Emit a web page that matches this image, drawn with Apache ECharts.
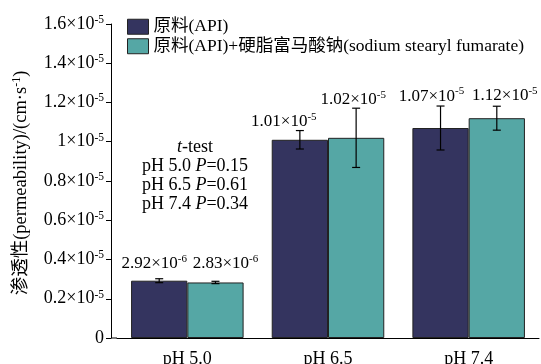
<!DOCTYPE html>
<html><head><meta charset="utf-8">
<script src="https://cdn.jsdelivr.net/npm/echarts@6/dist/echarts.min.js"></script>
<style>html,body{margin:0;padding:0;background:#fff}#c{width:541px;height:364px}</style>
</head><body><div id="c"></div>
<script>
// ---- data ----
const categories = ['pH 5.0', 'pH 6.5', 'pH 7.4'];
const seriesNames = ['原料(API)', '原料(API)+硬脂富马酸钠(sodium stearyl fumarate)'];
const apiMean = [2.92e-6, 1.01e-5, 1.07e-5];
const apiErr = [0.10e-6, 0.047e-5, 0.112e-5];
const ssfMean = [2.83e-6, 1.02e-5, 1.12e-5];
const ssfErr = [0.06e-6, 0.151e-5, 0.061e-5];
const apiLabels = [['2.92', '6'], ['1.01', '5'], ['1.07', '5']];
const ssfLabels = [['2.83', '6'], ['1.02', '5'], ['1.12', '5']];
const yTickMantissa = ['0', '0.2', '0.4', '0.6', '0.8', '1', '1.2', '1.4', '1.6'];
const yTickExp = '5';
const tTest = [['pH 5.0', '0.15'], ['pH 6.5', '0.61'], ['pH 7.4', '0.34']];

// ---- styling ----
const FONT = "'Liberation Serif','Noto Sans CJK SC',serif";
const C_API = '#34345f';
const C_SSF = '#55a7a5';
const apiLabelDx = [-5, -16, -9];
const apiLabelGap = [5, -1, 0];
const ssfLabelDx = [10, -3, 8];
const ssfLabelGap = [8, -1, 1];
const GRID = {left: 117, right: 2, top: 24, bottom: 26, outerBoundsMode: 'none', containLabel: false};

const rich = {
  a: {fontSize: 17, fontFamily: FONT, color: '#000', lineHeight: 20},
  s: {fontSize: 11, fontFamily: FONT, color: '#000', lineHeight: 12, verticalAlign: 'top'},
  ya: {fontSize: 18, fontFamily: FONT, color: '#000', lineHeight: 20},
  ys: {fontSize: 11.5, fontFamily: FONT, color: '#000', lineHeight: 12, verticalAlign: 'top'},
  ta: {fontSize: 18.5, fontFamily: FONT, color: '#000', lineHeight: 20},
  ts: {fontSize: 12, fontFamily: FONT, color: '#000', lineHeight: 12, verticalAlign: 'top'},
  i: {fontSize: 18, fontFamily: FONT, color: '#000', fontStyle: 'italic', lineHeight: 19},
  n: {fontSize: 18, fontFamily: FONT, color: '#000', lineHeight: 19}
};

function errSeries(means, errs, labels, dxs, gaps, side) {
  return {
    type: 'custom',
    name: 'err' + side,
    z: 10,
    data: means.map((m, i) => [i, m, errs[i]]),
    renderItem(params, api) {
      const i = api.value(0), m = api.value(1), e = api.value(2);
      const cw = api.size([1, 0])[0];
      const x = api.coord([i, m])[0] + side * cw * 0.2;
      const yHi = api.coord([i, m + e])[1];
      const yLo = api.coord([i, m - e])[1];
      const hw = 4;
      const st = {stroke: '#000', lineWidth: 1.2};
      const lab = labels[params.dataIndex];
      return {
        type: 'group',
        children: [
          {type: 'line', shape: {x1: x, y1: yHi, x2: x, y2: yLo}, style: st},
          {type: 'line', shape: {x1: x - hw, y1: yHi, x2: x + hw, y2: yHi}, style: st},
          {type: 'line', shape: {x1: x - hw, y1: yLo, x2: x + hw, y2: yLo}, style: st},
          {type: 'text', x: x + dxs[params.dataIndex], y: yHi - gaps[params.dataIndex],
            style: {text: '{a|' + lab[0] + '×10}{s|-' + lab[1] + '}', rich: rich,
              align: 'center', verticalAlign: 'bottom'}}
        ]
      };
    }
  };
}

const chart = echarts.init(document.getElementById('c'), null, {renderer: 'canvas'});
const H = 364;
const tText = '{i|t}{n|-test}\n' + tTest.map(t => '{n|' + t[0] + ' }{i|P}{n|=' + t[1] + '}').join('\n');

chart.setOption({
  animation: false,
  backgroundColor: '#fff',
  grid: GRID,
  legend: {
    orient: 'vertical', left: 122, top: 13,
    itemWidth: 21, itemHeight: 15, itemGap: 2,
    icon: 'rect',
    itemStyle: {borderColor: '#222', borderWidth: 1},
    textStyle: {fontSize: 17.5, fontFamily: FONT, color: '#000'},
    data: seriesNames
  },
  xAxis: {
    type: 'category', data: categories,
    axisLine: {lineStyle: {color: '#000', width: 1}},
    axisTick: {alignWithLabel: true, length: 6, lineStyle: {color: '#000'}},
    axisLabel: {fontSize: 18, fontFamily: FONT, color: '#000', margin: 12}
  },
  yAxis: {
    type: 'value', min: 0, max: 1.6e-5, interval: 0.2e-5, offset: 6,
    axisLine: {show: true, lineStyle: {color: '#000', width: 1}},
    axisTick: {show: true, length: 5, lineStyle: {color: '#000'}},
    splitLine: {show: false},
    axisLabel: {
      margin: 7,
      formatter: (v, idx) => idx === 0 ? '{ya|0}' : '{ya|' + yTickMantissa[idx] + '×10}{ys|-' + yTickExp + '}',
      rich: rich
    }
  },
  graphic: [
    {type: 'line', shape: {x1: GRID.left - 6, y1: H - GRID.bottom, x2: GRID.left, y2: H - GRID.bottom},
      style: {stroke: '#000', lineWidth: 1}, z: 5},
    {type: 'text', x: 21, y: 183, rotation: Math.PI / 2,
      style: {text: '{ta|渗透性(permeability)/(cm·s}{ts|-1}{ta|)}', rich: rich, align: 'center', verticalAlign: 'middle'}},
    {type: 'text', x: 195, y: 138,
      style: {text: tText, rich: rich, align: 'center', verticalAlign: 'top'}}
  ],
  series: [
    {type: 'bar', name: seriesNames[0], data: apiMean, barGap: '0%', barCategoryGap: '20%',
      itemStyle: {color: C_API, borderColor: '#222', borderWidth: 1}},
    {type: 'bar', name: seriesNames[1], data: ssfMean, barGap: '0%', barCategoryGap: '20%',
      itemStyle: {color: C_SSF, borderColor: '#222', borderWidth: 1}},
    errSeries(apiMean, apiErr, apiLabels, apiLabelDx, apiLabelGap, -1),
    errSeries(ssfMean, ssfErr, ssfLabels, ssfLabelDx, ssfLabelGap, 1)
  ]
});
</script></body></html>
